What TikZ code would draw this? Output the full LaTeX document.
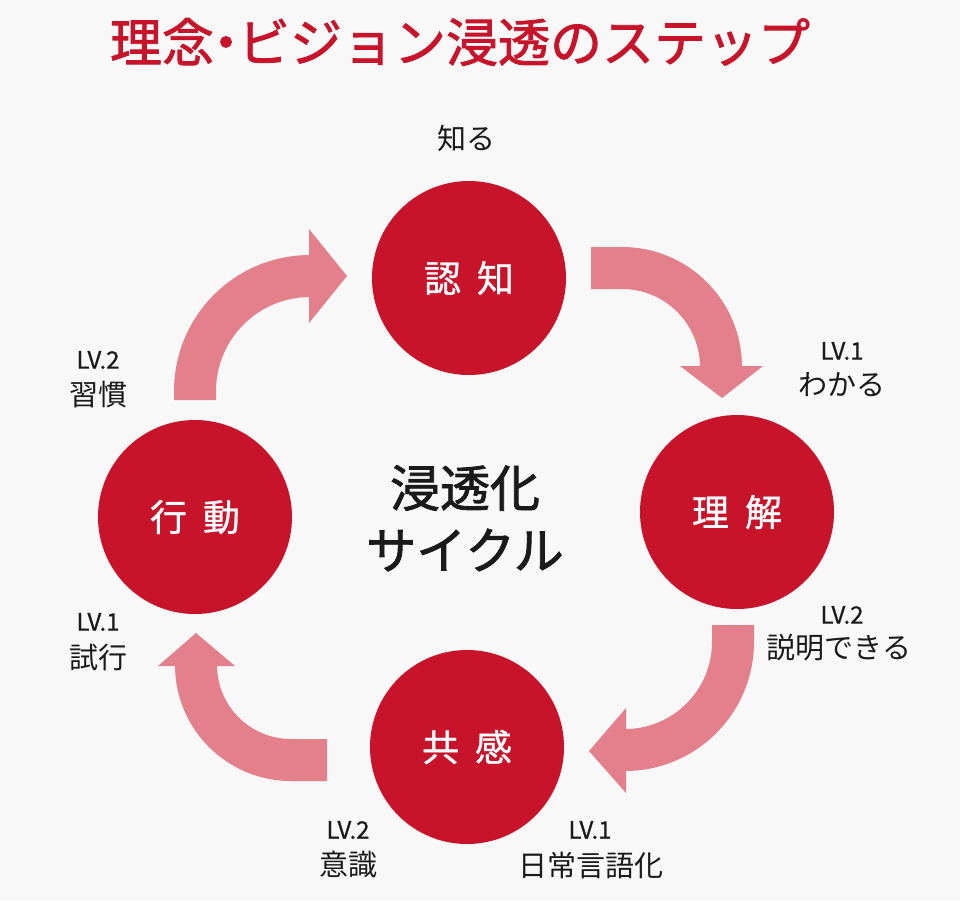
\documentclass[tikz,border=0pt]{standalone}
\usepackage{fontspec}
\setmainfont{Noto Sans CJK JP}
\newfontfamily\medfont[FakeBold=1.6]{Noto Sans CJK JP}
\newfontfamily\semifont[FakeBold=0.8]{Noto Sans CJK JP}
\definecolor{bgc}{RGB}{248,248,248}
\definecolor{cred}{RGB}{200,20,42}
\definecolor{apink}{RGB}{227,128,140}
\definecolor{txt}{RGB}{26,26,26}
\tikzset{
  stage/.style={circle,fill=cred,draw=none,minimum size=194pt,inner sep=0pt,text=white,font=\semifont\fontsize{37}{37}\selectfont},
  lvtxt/.style={text=txt,inner sep=0pt,font=\semifont\fontsize{24}{24}\selectfont},
  jptxt/.style={text=txt,inner sep=0pt,font=\fontsize{29}{29}\selectfont},
  band/.style={draw=apink,line width=42pt,line cap=butt},
  head/.style={fill=apink,draw=none}
}
\begin{document}
\begin{tikzpicture}[x=1pt,y=-1pt]
\fill[bgc] (0,0) rectangle (960,900);
\useasboundingbox (0,0) rectangle (960,900);

% title
\node[text=cred,inner sep=0pt,font=\medfont\fontsize{52}{52}\selectfont] (title) at (460,42) {理念\hspace{-14pt}・\hspace{-14pt}ビジョン浸透のステップ};

% arrows
\coordinate (a1s) at (591,268);
\coordinate (a1e) at (721,367);
\draw[band] (a1s) -- (622,268) .. controls (676.7,268) and (721,312.3) .. (a1e);
\fill[head] (680,366) -- (763,366) -- (722,398) -- cycle;

\coordinate (a2s) at (733,625);
\coordinate (a2e) at (625,750);
\draw[band] (a2s) -- (733,642) .. controls (733,701.6) and (684.6,750) .. (a2e);
\fill[head] (626,708) -- (626,793) -- (589,751) -- cycle;

\coordinate (a3s) at (327,760);
\coordinate (a3e) at (196,665);
\draw[band] (a3s) -- (291,760) .. controls (238.5,760) and (196,717.5) .. (a3e);
\fill[head] (158,666) -- (235,666) -- (196,633) -- cycle;

\coordinate (a4s) at (195,400);
\coordinate (a4e) at (310,276);
\draw[band] (a4s) -- (195,391) .. controls (195,327.5) and (246.5,276) .. (a4e);
\fill[head] (309,229) -- (309,323) -- (347,276) -- cycle;

% circles
\node[stage] (ninchi) at (469,278) {認\hspace{16pt}知};
\node[stage] (rikai) at (737,512) {理\hspace{16pt}解};
\node[stage] (kyokan) at (467,747) {共\hspace{16pt}感};
\node[stage] (kodo) at (195,517) {行\hspace{16pt}動};

% center
\node[text=txt,inner sep=0pt,font=\medfont\fontsize{50}{50}\selectfont] (c1) at (465,488) {浸透化};
\node[text=txt,inner sep=0pt,font=\medfont\fontsize{50}{50}\selectfont] (c2) at (465,550) {サイクル};

% labels
\node[jptxt] (shiru) at (466,138) {知る};
\node[lvtxt] (l1a) at (842,351) {LV.1};
\node[jptxt] (l1b) at (842,385) {わかる};
\node[lvtxt] (l2a) at (842,615) {LV.2};
\node[jptxt] (l2b) at (839,648) {説明できる};
\node[lvtxt] (l3a) at (590,830) {LV.1};
\node[jptxt] (l3b) at (591,865) {日常言語化};
\node[lvtxt] (l4a) at (348,830) {LV.2};
\node[jptxt] (l4b) at (348,865) {意識};
\node[lvtxt] (l5a) at (98,622) {LV.1};
\node[jptxt] (l5b) at (98,657) {試行};
\node[lvtxt] (l6a) at (98,360) {LV.2};
\node[jptxt] (l6b) at (98,395) {習慣};
\end{tikzpicture}
\end{document}
